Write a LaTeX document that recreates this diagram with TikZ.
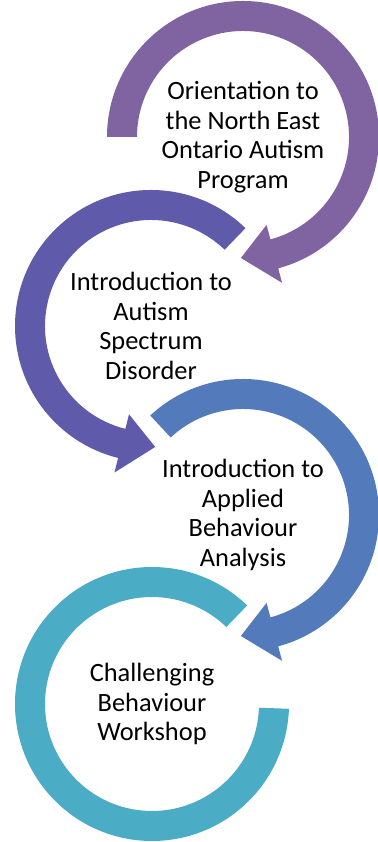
\documentclass[tikz,border=0pt]{standalone}
\usepackage{fontspec}
\setmainfont{Carlito}
\usepackage{tikz}
\usetikzlibrary{positioning}

\definecolor{orientpurple}{HTML}{8064A2}
\definecolor{asdindigo}{HTML}{5F5BAA}
\definecolor{abablue}{HTML}{537BBC}
\definecolor{workshopteal}{HTML}{4BACC6}

\begin{document}
\begin{tikzpicture}[x=1pt, y=1pt,
stagetext/.style={align=center, inner sep=0pt, font=\fontsize{26.4}{29.5}\selectfont},
ring1/.style={fill=orientpurple},
ring2/.style={fill=asdindigo},
ring3/.style={fill=abablue},
ring4/.style={fill=workshopteal},
]
\useasboundingbox (0,0) rectangle (377,842);

%Nodes
\node[stagetext] (orient)   at (243,705) {Orientation to\\the North East\\Ontario Autism\\Program};
\node[stagetext] (asd)      at (151,516) {Introduction to\\Autism\\Spectrum\\Disorder};
\node[stagetext] (aba)      at (243,327) {Introduction to\\Applied\\Behaviour\\Analysis};
\node[stagetext] (workshop) at (152,138) {Challenging\\Behaviour\\Workshop};

%Arrows
\begin{scope}[shift={(orient.center)}]
\fill[ring1] (180:136) arc[start angle=180, end angle=-75, radius=136] -- (-75:151) -- (-91:121) -- (-75:91) -- (-75:106) arc[start angle=-75, end angle=180, radius=106] -- cycle;
\end{scope}
\begin{scope}[shift={(asd.center)}]
\fill[ring2] (46:136) arc[start angle=46, end angle=256, radius=136] -- (256:151) -- (272:121) -- (256:91) -- (256:106) arc[start angle=256, end angle=46, radius=106] -- cycle;
\end{scope}
\begin{scope}[shift={(aba.center)}]
\fill[ring3] (133:136) arc[start angle=133, end angle=-75, radius=136] -- (-75:151) -- (-91:121) -- (-75:91) -- (-75:106) arc[start angle=-75, end angle=133, radius=106] -- cycle;
\end{scope}
\begin{scope}[shift={(workshop.center)}]
\fill[ring4] (46:137) arc[start angle=46, end angle=358, radius=137] -- (358:107) arc[start angle=358, end angle=46, radius=107] -- cycle;
\end{scope}
\end{tikzpicture}
\end{document}
